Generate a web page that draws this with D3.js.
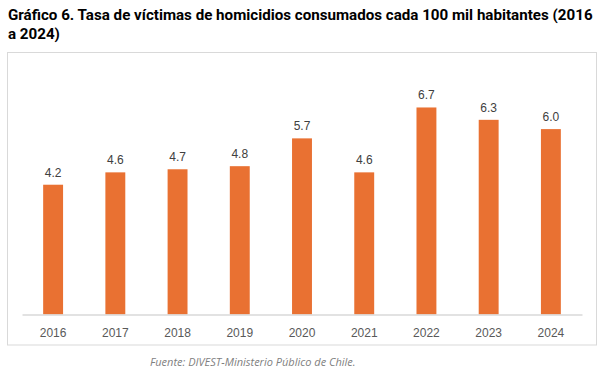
<!DOCTYPE html>
<html><head><meta charset="utf-8">
<script src="https://cdn.jsdelivr.net/npm/d3@7"></script>
<style>body{margin:0;background:#fff}svg{display:block}</style>
</head><body>
<script>
const years = ["2016","2017","2018","2019","2020","2021","2022","2023","2024"];
const rates = [4.2,4.6,4.7,4.8,5.7,4.6,6.7,6.3,6.0];
const titleLines = ["Gráfico 6. Tasa de víctimas de homicidios consumados cada 100 mil habitantes (2016","a 2024)"];
const sourceText = "Fuente: DIVEST-Ministerio Público de Chile.";

const W = 605, H = 377;
const svg = d3.select("body").append("svg").attr("width", W).attr("height", H);

// title: pick font size so the first line spans the same width as the reference
const titleFont = "Roboto, 'Liberation Sans', sans-serif";
const probe = svg.append("text").attr("font-family", titleFont).attr("font-weight", "bold")
  .attr("font-size", 20).text(titleLines[0]);
const natural = probe.node().getComputedTextLength();
probe.remove();
const titleSize = Math.min(17, 20 * 585 / natural);

const tl = svg.append("g");
titleLines.forEach((t, i) => {
  tl.append("text").attr("x", 8).attr("y", 19.5 + i * 19)
    .attr("font-family", titleFont)
    .attr("font-weight", "bold").attr("font-size", titleSize).attr("fill", "#000").text(t);
});

// frame
svg.append("rect").attr("x", 7.5).attr("y", 52.5).attr("width", 589).attr("height", 292.5)
  .attr("fill", "none").attr("stroke", "#d9d9d9").attr("stroke-width", 1);

const x = d3.scaleBand().domain(years).range([22, 582]).paddingInner(0.68).paddingOuter(0.34);
const y = d3.scaleLinear().domain([0, 8]).range([314.5, 67.3]);

svg.append("g").selectAll("rect").data(years).join("rect")
  .attr("x", d => x(d)).attr("width", x.bandwidth())
  .attr("y", (d, i) => y(rates[i])).attr("height", (d, i) => y(0) - y(rates[i]))
  .attr("fill", "#E97132");

// baseline axis
const ax = svg.append("g").attr("transform", `translate(0,${y(0)})`)
  .call(d3.axisBottom(x).tickSize(0).tickPadding(14));
ax.select(".domain").attr("stroke", "#d9d9d9").attr("stroke-width", 1.5);
ax.selectAll("text").attr("font-family", "'Liberation Sans', Arial, sans-serif")
  .attr("font-size", 12).attr("fill", "#595959");

// value labels
svg.append("g").selectAll("text").data(years).join("text")
  .attr("x", d => x(d) + x.bandwidth() / 2)
  .attr("y", (d, i) => y(rates[i]) - 8)
  .attr("text-anchor", "middle")
  .attr("font-family", "'Liberation Sans', Arial, sans-serif")
  .attr("font-size", 12).attr("fill", "#404040")
  .text((d, i) => rates[i].toFixed(1));

// source
svg.append("text").attr("x", 150).attr("y", 366)
  .attr("font-family", "'Open Sans', 'Noto Sans', sans-serif").attr("font-style", "italic")
  .attr("font-size", 11).attr("fill", "#7f7f7f").text(sourceText);
</script>
</body></html>
